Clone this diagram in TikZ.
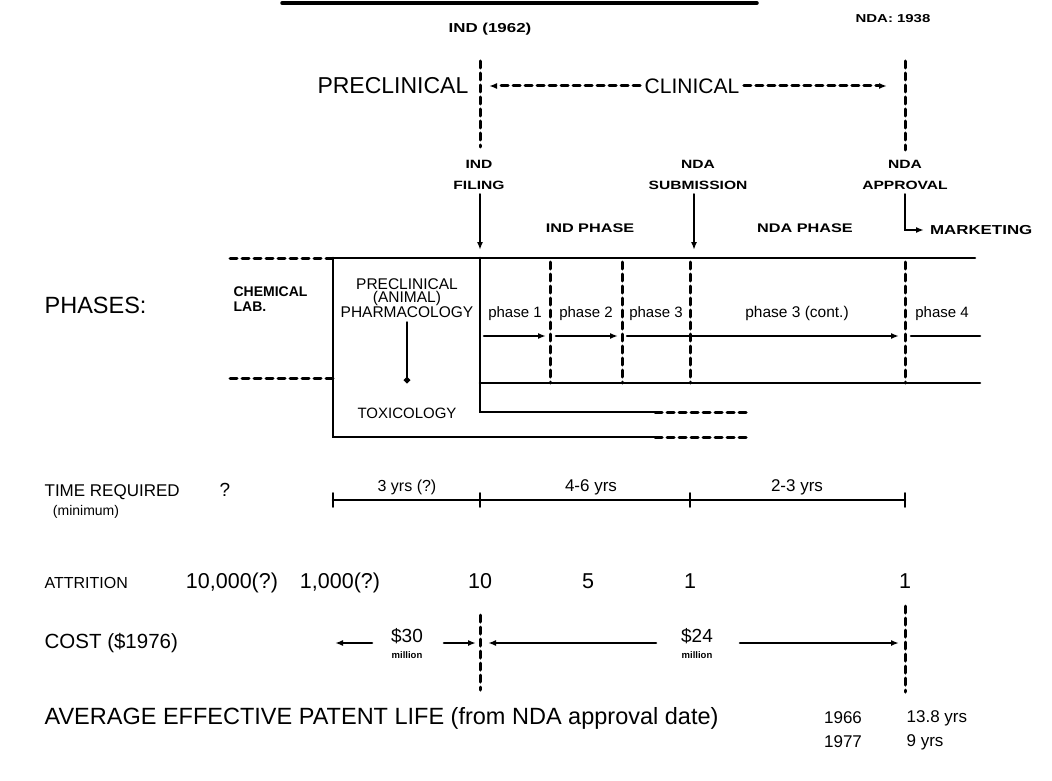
\documentclass[tikz,border=0pt]{standalone}
\usepackage{fontspec}
\setmainfont{Liberation Sans}
\usetikzlibrary{arrows.meta}

\tikzset{
  fs/.style={font=\fontsize{#1}{#1}\selectfont},
  cap/.style={font=\bfseries\fontsize{#1}{21}\selectfont,xscale=1.3,align=center},
  dsh/.style={dash pattern=on 7pt off 5pt,line width=3pt,line cap=round},
  tck/.style={line width=1.8pt}
}

\begin{document}
\begin{tikzpicture}[x=1pt,y=-1pt,>={Latex[length=8pt,width=6pt]},line cap=round,line width=2.6pt]
\useasboundingbox (0,0) rectangle (1052,781);
\draw[line width=3.5pt] (282,3) -- (757,3);
\node[cap=13] (ind62) at (490,29) {IND (1962)};
\node[cap=11.5] (nda38) at (893,19) {NDA: 1938};
\node[fs=23,anchor=east] (precl) at (473,86) {PRECLINICAL};
\node[fs=21] (clin) at (692,86) {CLINICAL};
\draw[dsh,->] (clin.west) -- (489,86);
\draw[dsh,->] (clin.east) -- (887,86);
\draw[dsh] (480,61) -- (480,147);
\draw[dsh] (905,61) -- (905,150);
\node[cap=12] (indf) at (479,175) {IND\\FILING};
\node[cap=12] (ndas) at (698,175) {NDA\\SUBMISSION};
\node[cap=12] (ndaa) at (905,175) {NDA\\APPROVAL};
\draw[->] (indf.south -| 480,0) -- (480,250);
\draw[->] (ndas.south -| 694,0) -- (694,250);
\node[cap=12.5] (indph) at (590,228) {IND PHASE};
\node[cap=12.5] (ndaph) at (805,228) {NDA PHASE};
\node[cap=13,anchor=west] (mkt) at (924,230) {MARKETING};
\draw[->] (ndaa.south -| 905,0) |- (mkt.west);
\node[fs=23.5,anchor=west] (phases) at (40,305) {PHASES:};
\node[font=\bfseries\fontsize{14}{15}\selectfont,anchor=west,align=left] (chem) at (229,299) {CHEMICAL\\LAB.};
\draw[dsh] (230,258) -- (333,258);
\draw (333,258) -- (975,258);
\draw (333,258) -- (333,437) -- (655,437);
\draw[dsh] (655,437) -- (750,437);
\draw[dsh] (230,378) -- (333,378);
\node[font=\fontsize{15.5}{13.5}\selectfont,align=center] (precl2) at (407,298) {PRECLINICAL\\(ANIMAL)\\PHARMACOLOGY};
\node[fs=15] (tox) at (407,413) {TOXICOLOGY};
\draw[-{Circle[length=6pt]},shorten >=20pt] (precl2.south) -- (tox.north);
\draw (480,258) -- (480,412) -- (655,412);
\draw[dsh] (655,412) -- (750,412);
\draw (480,383) -- (980,383);
\draw[dsh] (550,262) -- (550,383);
\draw[dsh] (622,262) -- (622,383);
\draw[dsh] (690,262) -- (690,383);
\draw[dsh] (905,262) -- (905,383);
\node[fs=15,anchor=base] (p1) at (515,317) {phase 1};
\node[fs=15,anchor=base] (p2) at (586,317) {phase 2};
\node[fs=15,anchor=base] (p3) at (656,317) {phase 3};
\node[fs=15.5,anchor=base] (p3c) at (797,317) {phase 3 (cont.)};
\node[fs=15,anchor=base] (p4) at (942,317) {phase 4};
\draw[->] (484,336) -- (546,336);
\draw[->] (556,336) -- (618,336);
\draw[->] (627,336) -- (899,336);
\draw (911,336) -- (980,336);
\node[fs=17,anchor=west] (time) at (40,492) {TIME REQUIRED};
\node[fs=14] (minm) at (86,512) {(minimum)};
\node[fs=19] (q) at (225,490) {?};
\draw (333,500) -- (905,500);
\draw[tck] (333,493) -- (333,507);
\draw[tck] (480,493) -- (480,507);
\draw[tck] (690,493) -- (690,507);
\draw[tck] (905,493) -- (905,507);
\node[fs=16,anchor=base] (t1) at (407,491) {3 yrs (?)};
\node[fs=17,anchor=base] (t2) at (591,491) {4-6 yrs};
\node[fs=17,anchor=base] (t3) at (797,491) {2-3 yrs};
\node[fs=16,anchor=base west] (attr) at (40,588) {ATTRITION};
\node[fs=21.5,anchor=base] (a1) at (232,588) {10,000(?)};
\node[fs=21.5,anchor=base] (a2) at (340,588) {1,000(?)};
\node[fs=21.5,anchor=base] (a3) at (480,588) {10};
\node[fs=21.5,anchor=base] (a4) at (588,588) {5};
\node[fs=21.5,anchor=base] (a5) at (690,588) {1};
\node[fs=21.5,anchor=base] (a6) at (905,588) {1};
\node[fs=20.5,anchor=west] (cost) at (40,643) {COST (\$1976)};
\node[fs=19] (c30) at (407,636) {\$30};
\node[font=\bfseries\fontsize{9.5}{10}\selectfont] (m30) at (407,655) {million};
\node[fs=19] (c24) at (697,636) {\$24};
\node[font=\bfseries\fontsize{9.5}{10}\selectfont] (m24) at (697,655) {million};
\draw[dsh] (480,615) -- (480,690);
\draw[dsh] (905,606) -- (905,692);
\draw[->] (372,643) -- (335,643);
\draw[->] (444,643) -- (476,643);
\draw[->] (656,643) -- (488,643);
\draw[->] (740,643) -- (899,643);
\node[fs=23.5,anchor=west] (apl) at (40,718) {AVERAGE EFFECTIVE PATENT LIFE (from NDA approval date)};
\node[fs=17] (y66) at (843,718) {1966};
\node[fs=17] (y77) at (843,742) {1977};
\node[fs=17,anchor=west] (l66) at (902,718) {13.8 yrs};
\node[fs=17,anchor=west] (l77) at (902,742) {9 yrs};
\end{tikzpicture}
\end{document}
